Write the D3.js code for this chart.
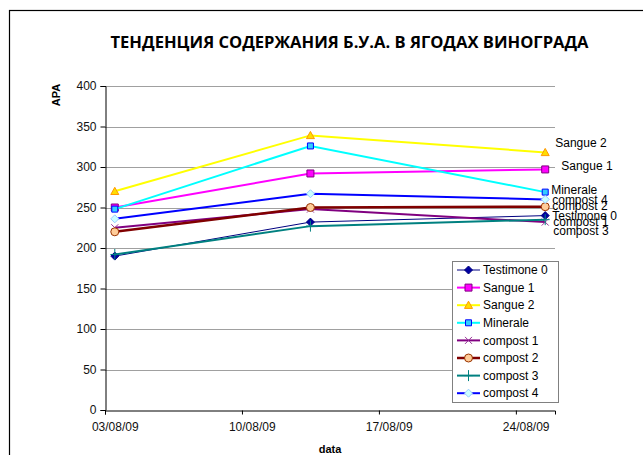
<!DOCTYPE html>
<html>
<head>
<meta charset="utf-8">
<title>Тенденция</title>
<script src="https://d3js.org/d3.v7.min.js"></script>
<style>
  body { margin: 0; background: #fff; }
  text { font-family: "Liberation Sans", Arial, sans-serif; }
  .grid line { stroke: #a0a0a0; stroke-width: 1px; }
  .axis path, .axis line { stroke: #000; }
  .axis text { font-size: 12px; fill: #111; }
</style>
</head>
<body>
<svg width="643" height="455"></svg>
<script>
// data
var dates = ["03/08/09", "13/08/09", "25/08/09"];
var xTicks = ["03/08/09", "10/08/09", "17/08/09", "24/08/09"];
var yTicks = [0, 50, 100, 150, 200, 250, 300, 350, 400];

var names = ["Testimone 0", "Sangue 1", "Sangue 2", "Minerale", "compost 1", "compost 2", "compost 3", "compost 4"];
var testimone0 = [190, 232, 240];
var sangue1    = [250, 292, 297];
var sangue2    = [270, 339, 318];
var minerale   = [248, 326, 269];
var compost1   = [225, 248, 232];
var compost2   = [220, 250, 251];
var compost3   = [192, 227, 235];
var compost4   = [236, 267, 260];

var svg = d3.select("svg");
var parse = d3.utcParse("%d/%m/%y");
var halfDay = 12 * 3600 * 1000;

// chart frame
svg.append("rect")
    .attr("x", 9.5).attr("y", 10.5)
    .attr("width", 640).attr("height", 450)
    .attr("fill", "#fff").attr("stroke", "#000").attr("stroke-width", 1.2);

svg.append("text")
    .attr("x", 349.5).attr("y", 48)
    .attr("text-anchor", "middle")
    .attr("textLength", 478).attr("lengthAdjust", "spacingAndGlyphs")
    .style("font-family", "'Open Sans', sans-serif")
    .style("font-weight", "bold").style("font-size", "16px")
    .text("ТЕНДЕНЦИЯ СОДЕРЖАНИЯ Б.У.А. В ЯГОДАХ ВИНОГРАДА");

var x = d3.scaleUtc()
    .domain([parse("03/08/09"), parse("26/08/09")])
    .range([105, 555]);
var y = d3.scaleLinear().domain([0, 400]).range([410, 86]);

// gridlines
svg.append("g").attr("class", "grid")
  .selectAll("line").data(yTicks.slice(1)).enter().append("line")
    .attr("x1", 105).attr("x2", 555)
    .attr("y1", function(d) { return Math.round(y(d)) + 0.5; })
    .attr("y2", function(d) { return Math.round(y(d)) + 0.5; });

var dayPx = x(parse("04/08/09")) - x(parse("03/08/09"));

var gx = svg.append("g").attr("class", "axis")
    .attr("transform", "translate(0,410.5)")
    .call(d3.axisBottom(x).tickValues(xTicks.map(parse))
      .tickFormat(d3.utcFormat("%d/%m/%y")).tickSizeOuter(0).tickSize(4).tickPadding(8));
gx.selectAll(".tick text").attr("x", dayPx / 2);

svg.append("g").attr("class", "axis")
    .attr("transform", "translate(105.5,0)")
    .call(d3.axisLeft(y).tickValues(yTicks).tickSizeOuter(0).tickSize(5).tickPadding(4));

svg.append("text")
    .attr("x", 330).attr("y", 453)
    .attr("text-anchor", "middle")
    .style("font-weight", "bold").style("font-size", "11px")
    .text("data");

svg.append("text")
    .attr("transform", "translate(60,95) rotate(-90)")
    .attr("text-anchor", "middle")
    .style("font-weight", "bold").style("font-size", "11px")
    .text("APA");

// marker shapes
function markerPath(kind, s) {
  var h = s / 2;
  if (kind === "diamond") return "M0," + (-h) + "L" + h + ",0L0," + h + "L" + (-h) + ",0Z";
  if (kind === "square") return "M" + (-h) + "," + (-h) + "h" + s + "v" + s + "h" + (-s) + "Z";
  if (kind === "triangle") return "M0," + (-h) + "L" + h + "," + (h * 0.8) + "L" + (-h) + "," + (h * 0.8) + "Z";
  if (kind === "x") return "M" + (-h) + "," + (-h) + "L" + h + "," + h + "M" + (-h) + "," + h + "L" + h + "," + (-h);
  if (kind === "plus") return "M0," + (-h) + "V" + h + "M" + (-h * 0.8) + ",0H" + (h * 0.8);
  if (kind === "circle") return d3.symbol(d3.symbolCircle, Math.PI * h * h)();
  return "";
}

var values = [testimone0, sangue1, sangue2, minerale, compost1, compost2, compost3, compost4];
var styles = [
  {line: "#000080", w: 1,   m: "diamond",  s: 8,  fill: "#0000a0", stroke: "#000080"},
  {line: "#ff00ff", w: 2,   m: "square",   s: 7,  fill: "#ff00ff", stroke: "#800080"},
  {line: "#ffff00", w: 2,   m: "triangle", s: 8,  fill: "#ffdd00", stroke: "#ff9900"},
  {line: "#00ffff", w: 2,   m: "square",   s: 6,  fill: "#33ccff", stroke: "#0000ff"},
  {line: "#800080", w: 2,   m: "x",        s: 7,  fill: "none",    stroke: "#993399"},
  {line: "#800000", w: 2.5, m: "circle",   s: 8,  fill: "#ffcc99", stroke: "#993300"},
  {line: "#008080", w: 2,   m: "plus",     s: 11, fill: "none",    stroke: "#008080"},
  {line: "#0000ff", w: 2,   m: "diamond",  s: 8,  fill: "#ccffff", stroke: "#99ccff"}
];
// end-label offsets [dx, dy] from the last point
var labelPos = [[7, 0], [16, -4], [10, -10], [6, -2], [8, 0], [7, -1], [8, 11], [7, 0]];

var series = names.map(function(n, i) {
  return {name: n, st: styles[i], lp: labelPos[i], values: values[i].map(function(v, j) {
    return {date: new Date(parse(dates[j]).getTime() + halfDay), value: v};
  })};
});

var line = d3.line()
    .x(function(d) { return x(d.date); })
    .y(function(d) { return y(d.value); });

var g = svg.selectAll(".series").data(series).enter().append("g").attr("class", "series");

g.append("path")
    .attr("d", function(d) { return line(d.values); })
    .attr("fill", "none")
    .attr("stroke", function(d) { return d.st.line; })
    .attr("stroke-width", function(d) { return d.st.w; });

g.selectAll(".pt").data(function(d) { return d.values.map(function(v) { return {v: v, st: d.st}; }); })
  .enter().append("path")
    .attr("class", "pt")
    .attr("transform", function(d) { return "translate(" + x(d.v.date) + "," + y(d.v.value) + ")"; })
    .attr("d", function(d) { return markerPath(d.st.m, d.st.s); })
    .attr("fill", function(d) { return d.st.fill; })
    .attr("stroke", function(d) { return d.st.stroke; })
    .attr("stroke-width", 1);

g.append("text")
    .datum(function(d) { var last = d.values[d.values.length - 1]; return {name: d.name, lp: d.lp, last: last}; })
    .attr("x", function(d) { return x(d.last.date) + d.lp[0]; })
    .attr("y", function(d) { return y(d.last.value) + d.lp[1]; })
    .attr("dy", "0.35em")
    .style("font-size", "12px")
    .text(function(d) { return d.name; });

// legend
var legend = svg.append("g");
legend.append("rect")
    .attr("x", 452.5).attr("y", 261.5).attr("width", 106).attr("height", 141)
    .attr("fill", "#fff").attr("stroke", "#808080");

var li = legend.selectAll(".li").data(series).enter().append("g")
    .attr("transform", function(d, i) { return "translate(0," + (270 + i * 17.6) + ")"; });
li.append("line")
    .attr("x1", 457).attr("x2", 480)
    .attr("stroke", function(d) { return d.st.line; })
    .attr("stroke-width", function(d) { return d.st.w; });
li.append("path")
    .attr("transform", "translate(468.5,0)")
    .attr("d", function(d) { return markerPath(d.st.m, d.st.s); })
    .attr("fill", function(d) { return d.st.fill; })
    .attr("stroke", function(d) { return d.st.stroke; });
li.append("text")
    .attr("x", 483).attr("dy", "0.35em")
    .style("font-size", "12px")
    .text(function(d) { return d.name; });
</script>
</body>
</html>
